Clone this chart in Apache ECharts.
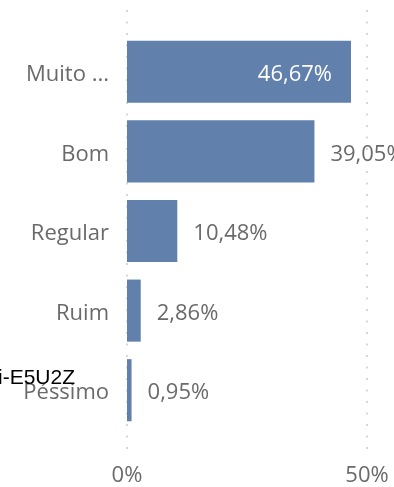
<!DOCTYPE html>
<html>
<head>
<meta charset="utf-8">
<script src="https://cdn.jsdelivr.net/npm/echarts@6/dist/echarts.min.js"></script>
<style>
  html, body { margin: 0; padding: 0; background: #fff; }
  #chart { width: 394px; height: 487px; }
</style>
</head>
<body>
<div id="chart"></div>
<script>
// Rating categories (top to bottom) and their share in percent
var categories = ['Muito ...', 'Bom', 'Regular', 'Ruim', 'Péssimo'];
var shares = [46.67, 39.05, 10.48, 2.86, 0.95];
var xTicks = [0, 50];

var FONT = '"Open Sans", "Noto Sans", sans-serif';
var GREY = '#6a6a6a';
var BAR = '#6180ab';

function pct(v) {
  return v.toFixed(2).replace('.', ',') + '%';
}

var barData = shares.map(function (v, i) {
  var item = { value: v };
  if (i === 0) {
    item.label = { position: 'insideRight', distance: 19, color: '#ffffff' };
  }
  return item;
});

var chart = echarts.init(document.getElementById('chart'), null, { renderer: 'canvas' });
chart.setOption({
  animation: false,
  grid: [
    // full-height grid carrying the dotted reference lines and % ticks
    { left: 127, width: 240, top: 10, height: 443 },
    // grid holding the bars
    { left: 127, width: 240, top: 32, height: 398 }
  ],
  xAxis: [
    {
      gridIndex: 0, type: 'value', min: xTicks[0], max: xTicks[xTicks.length - 1], interval: 50,
      axisLine: { show: false }, axisTick: { show: false },
      splitLine: { show: true, lineStyle: { color: '#c8c8dc', width: 1.5, type: [2, 9.5] } },
      axisLabel: { formatter: '{value}%', color: GREY, fontSize: 22, fontFamily: FONT, margin: 13 }
    },
    {
      gridIndex: 1, type: 'value', min: xTicks[0], max: xTicks[xTicks.length - 1],
      show: false, splitLine: { show: false }
    }
  ],
  yAxis: [
    { gridIndex: 0, type: 'value', show: false, splitLine: { show: false } },
    {
      gridIndex: 1, type: 'category', data: categories, inverse: true,
      axisLine: { show: false }, axisTick: { show: false },
      axisLabel: {
        color: GREY, fontSize: 22, fontFamily: FONT, margin: 18,
        verticalAlign: 'top', lineHeight: 6
      }
    }
  ],
  series: [{
    type: 'bar',
    xAxisIndex: 1, yAxisIndex: 1,
    data: barData,
    barCategoryGap: '22%',
    itemStyle: { color: BAR },
    label: {
      show: true, position: 'right', distance: 16, offset: [0, 3],
      color: GREY, fontSize: 22, fontFamily: FONT,
      formatter: function (p) { return pct(p.value); }
    }
  }],
  graphic: [{
    type: 'text', left: -2, top: 368,
    style: { text: 'i-E5U2Z', fill: '#000000', font: '21px "Liberation Sans", Arial, sans-serif' },
    z: 100
  }]
});
</script>
</body>
</html>
